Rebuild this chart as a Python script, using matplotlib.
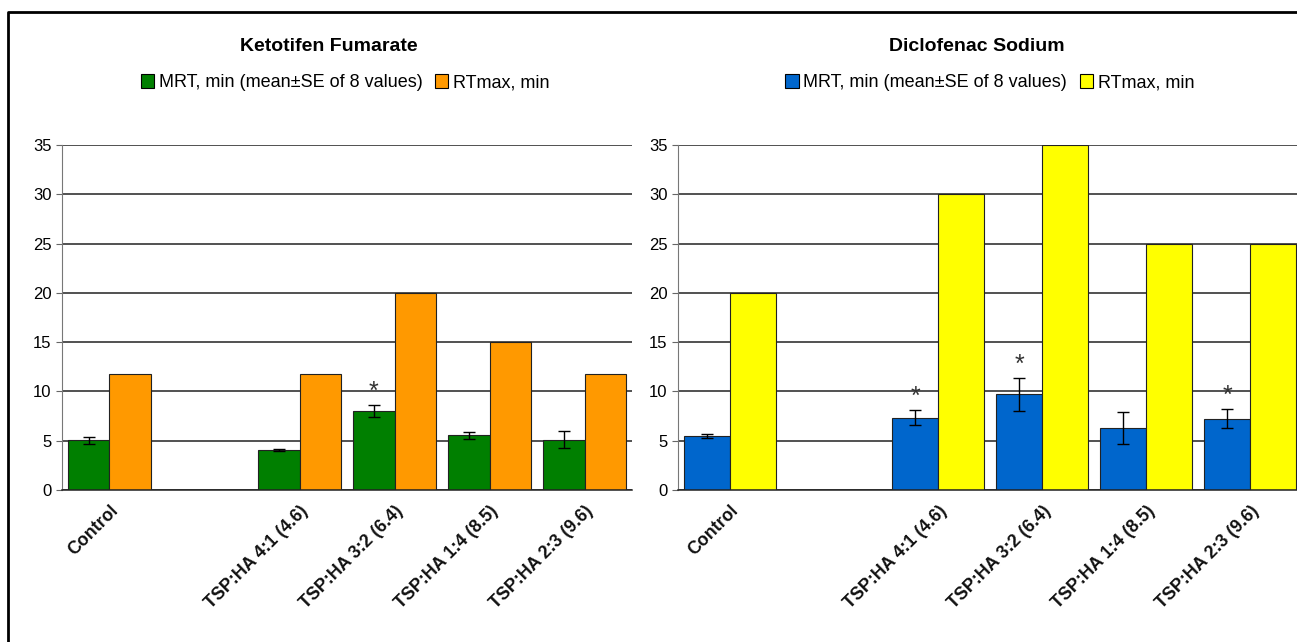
import numpy as np
import matplotlib
matplotlib.use("Agg")
import matplotlib.pyplot as plt
from matplotlib.lines import Line2D

plt.rcParams['font.family'] = ['Liberation Sans', 'DejaVu Sans']

# categories (empty slot between control and the TSP:HA groups)
categories = ["Control", "", "TSP:HA 4:1 (4.6)", "TSP:HA 3:2 (6.4)",
              "TSP:HA 1:4 (8.5)", "TSP:HA 2:3 (9.6)"]

# Ketotifen Fumarate
keto_mrt = [5.05, np.nan, 4.05, 8.03, 5.55, 5.1]
keto_se = [0.37, np.nan, 0.1, 0.62, 0.37, 0.85]
keto_rtmax = [11.8, np.nan, 11.8, 20, 15, 11.8]
keto_star = [False, False, False, True, False, False]

# Diclofenac Sodium
diclo_mrt = [5.5, np.nan, 7.35, 9.7, 6.3, 7.25]
diclo_se = [0.2, np.nan, 0.78, 1.7, 1.63, 1.0]
diclo_rtmax = [20, np.nan, 30, 35, 25, 25]
diclo_star = [False, False, True, True, False, True]

legend_mrt = "MRT, min (mean\u00b1SE of 8 values)"
legend_rt = "RTmax, min"

fig = plt.figure(figsize=(12.97, 6.42), dpi=100)


def draw_panel(ax, title, mrt, se, rtmax, stars, c1, c2, title_x, leg_x):
    x = np.arange(len(categories))
    w = 0.44
    ax.set_axisbelow(True)
    ax.yaxis.grid(True, color='#222222', linewidth=1.1)
    ax.bar(x - w / 2, mrt, w, color=c1, edgecolor='#222222', linewidth=0.8)
    ax.errorbar(x - w / 2, mrt, yerr=se, fmt='none', ecolor='black',
                elinewidth=1, capsize=4, capthick=1)
    ax.bar(x + w / 2, rtmax, w, color=c2, edgecolor='#222222', linewidth=0.8)
    for i, s in enumerate(stars):
        if s:
            ax.text(x[i] - w / 2, mrt[i] + se[i] + 0.1, "*", ha='center',
                    va='bottom', fontsize=18, color='#333333')
    ax.set_xlim(-0.5, len(categories) - 0.5)
    ax.set_ylim(0, 35)
    ax.set_yticks(range(0, 36, 5))
    ax.set_xticks(x)
    ax.set_xticklabels(categories, rotation=45, ha='right',
                       rotation_mode='anchor', fontsize=12.8,
                       fontweight='bold', color='#111111')
    for lab in ax.get_yticklabels():
        lab.set_family(['Liberation Sans Narrow', 'Liberation Sans'])
    ax.tick_params(axis='x', length=0, pad=9)
    ax.tick_params(axis='y', length=4, labelsize=12, color='#666666')
    for sp in ['top', 'right']:
        ax.spines[sp].set_visible(False)
    ax.spines['left'].set_color('#777777')
    ax.spines['bottom'].set_color('#222222')
    ax.spines['bottom'].set_linewidth(1.1)

    fig.text(title_x, 0.927, title, ha='center', va='center',
             fontsize=14, fontweight='bold')
    handles = [plt.Rectangle((0, 0), 1, 1, fc=c1, ec='black', lw=0.8),
               plt.Rectangle((0, 0), 1, 1, fc=c2, ec='black', lw=0.8)]
    fig.legend(handles, [legend_mrt, legend_rt], loc='center',
               bbox_to_anchor=(leg_x, 0.871), ncol=2, frameon=False,
               fontsize=13, handlelength=0.75, handleheight=0.75,
               handletextpad=0.25, columnspacing=0.7)


ax1 = fig.add_axes([0.0478, 0.2368, 0.4395, 0.5374])
draw_panel(ax1, "Ketotifen Fumarate", keto_mrt, keto_se, keto_rtmax,
           keto_star, '#007F00', '#FF9900', 0.2537, 0.266)

ax2 = fig.add_axes([0.5227, 0.2368, 0.4811, 0.5374])
draw_panel(ax2, "Diclofenac Sodium", diclo_mrt, diclo_se, diclo_rtmax,
           diclo_star, '#0066CC', '#FFFF00', 0.753, 0.763)

# outer frame (left and top edges)
fig.add_artist(Line2D([0.0062, 0.0062, 1.0], [0.0, 0.9813, 0.9813],
                      color='black', linewidth=2, transform=fig.transFigure))

fig.savefig("out.png", dpi=100)
